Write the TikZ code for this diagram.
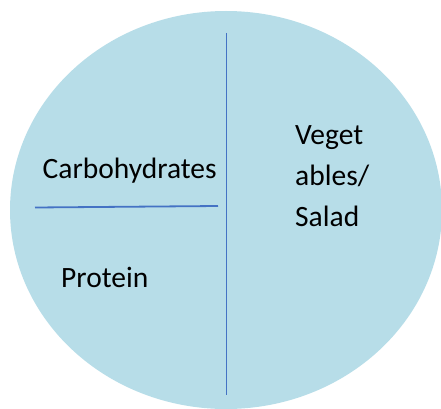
\documentclass[tikz,border=0pt]{standalone}
\usepackage{fontspec}
\setmainfont{Carlito}
\definecolor{plate}{HTML}{B7DDE8}
\definecolor{divider}{HTML}{4472C4}
\begin{document}
\begin{tikzpicture}[x=1pt,y=1pt,
  lbl/.style={anchor=base west,inner sep=0pt,font=\fontsize{29.5}{41}\selectfont,text=black},
  div/.style={draw=divider,line width=1.8pt}]
\useasboundingbox (0,0) rectangle (441,408);
\fill[white] (0,0) rectangle (441,408);
\begin{scope}
\clip (0,0) rectangle (441,408);
\fill[plate] (226,198) ellipse [x radius=216, y radius=199];
\end{scope}
\coordinate (vt) at (226.5,375);
\coordinate (vb) at (226.5,13);
\coordinate (hl) at (35,200.5);
\coordinate (hr) at (218,202);
\draw[div] (vt) -- (vb);
\draw[div] (hl) -- (hr);
\node[lbl] (carb) at (42.5,230) {Carbohydrates};
\node[lbl] (prot) at (61,121) {Protein};
\node[lbl,align=left] (veg) at (295,182) {Veget\\ables/\\Salad};
\end{tikzpicture}
\end{document}
